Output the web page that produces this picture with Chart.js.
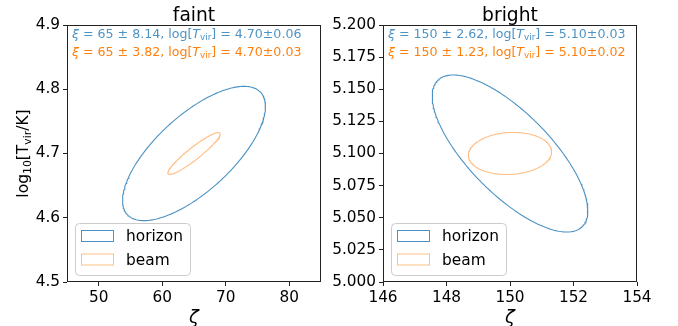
<!DOCTYPE html>
<html>
<head>
<meta charset="utf-8">
<script src="https://cdn.jsdelivr.net/npm/chart.js@4/dist/chart.umd.min.js"></script>
<style>
  html, body { margin: 0; padding: 0; background: #fff; }
  #wrap { position: relative; width: 678px; height: 326px; }
  #wrap canvas { position: absolute; left: 0; top: 0; }
</style>
</head>
<body>
<div id="wrap">
  <canvas id="c0" width="678" height="326"></canvas>
  <canvas id="c1" width="678" height="326"></canvas>
</div>
<script>
// ---------------- data ----------------
const categories = ['faint', 'bright'];
const seriesNames = ['horizon', 'beam'];
// ellipse centres
const centerX = [65, 150];
const centerY = [4.70, 5.10];
// half-extents of each ellipse along x and y, and the correlation
const horizonHalfX = [11.25, 2.45];
const horizonHalfY = [0.1045, 0.0611];
const horizonRho = [0.70, -0.73];
const beamHalfX = [4.12, 1.31];
const beamHalfY = [0.0327, 0.0164];
const beamRho = [0.93, 0.08];
// quoted values in the annotations
const xiValue = [65, 150];
const xiErrHorizon = [8.14, 2.62];
const xiErrBeam = [3.82, 1.23];
const tValue = ['4.70', '5.10'];
const tErrHorizon = ['0.06', '0.03'];
const tErrBeam = ['0.03', '0.02'];
// axes
const xRanges = [[45, 85], [146, 154]];
const yRanges = [[4.5, 4.9], [5.0, 5.2]];
const xTicks = [[50, 60, 70, 80], [146, 148, 150, 152, 154]];
const yTicks = [[4.5, 4.6, 4.7, 4.8, 4.9], [5.0, 5.025, 5.05, 5.075, 5.1, 5.125, 5.15, 5.175, 5.2]];
const yDecimals = [1, 3];

const COLORS = ['rgba(31,119,180,0.8)', 'rgba(255,127,14,0.5)'];
const FONT = '"DejaVu Sans", Verdana, sans-serif';

function ellipsePoints(cx, cy, ax, ay, rho) {
  const d = Math.acos(rho), pts = [], n = 240;
  for (let k = 0; k <= n; k++) {
    const t = 2 * Math.PI * k / n;
    pts.push({ x: cx + ax * Math.cos(t), y: cy + ay * Math.cos(t + d) });
  }
  return pts;
}

function segFont(seg, size) {
  const s = seg.sub ? size * 0.7 : size;
  return (seg.it ? 'italic ' : '') + s + 'px ' + FONT;
}
function richWidth(ctx, segs, size) {
  let w = 0;
  for (const s of segs) { ctx.font = segFont(s, size); w += ctx.measureText(s.t).width; }
  return w;
}
function drawRich(ctx, segs, x, y, size, color) {
  ctx.fillStyle = color;
  ctx.textBaseline = 'alphabetic';
  ctx.textAlign = 'left';
  for (const s of segs) {
    ctx.font = segFont(s, size);
    ctx.fillText(s.t, x, y + (s.sub ? size * 0.22 : 0));
    x += ctx.measureText(s.t).width;
  }
}
function annotSegs(xi, xiErr, t, tErr) {
  return [
    { t: 'ξ', it: true }, { t: ' = ' + xi + ' ± ' + xiErr.toFixed(2) + ', log[' },
    { t: 'T', it: true }, { t: 'vir', sub: true }, { t: '] = ' + t + '±' + tErr }
  ];
}

const decor = {
  id: 'decor',
  afterDatasetsDraw(chart, args, opts) {
    const i = opts.idx, ctx = chart.ctx, a = chart.chartArea;
    ctx.save();
    // annotations
    drawRich(ctx, annotSegs(xiValue[i], xiErrHorizon[i], tValue[i], tErrHorizon[i]), a.left + 5, a.top + 12.5, 12.6, COLORS[0]);
    drawRich(ctx, annotSegs(xiValue[i], xiErrBeam[i], tValue[i], tErrBeam[i]), a.left + 5, a.top + 30.5, 12.6, '#ff7f0e');
    // legend
    const lx = a.left + 8, ly = a.bottom - 59, lw = 115, lh = 52, r = 4;
    ctx.beginPath();
    ctx.roundRect(lx + 0.5, ly + 0.5, lw, lh, r);
    ctx.fillStyle = 'rgba(255,255,255,0.8)';
    ctx.fill();
    ctx.strokeStyle = '#cccccc';
    ctx.lineWidth = 1;
    ctx.stroke();
    const rowY = [13, 36.5];
    seriesNames.forEach((name, k) => {
      ctx.strokeStyle = COLORS[k];
      ctx.lineWidth = 1;
      ctx.strokeRect(lx + 6.5, ly + rowY[k] - 5.5, 32, 11);
      ctx.fillStyle = '#000';
      ctx.font = '15.4px ' + FONT;
      ctx.textBaseline = 'middle';
      ctx.textAlign = 'left';
      ctx.fillText(name, lx + 51, ly + rowY[k] + 1);
    });
    ctx.restore();
  },
  afterDraw(chart, args, opts) {
    const i = opts.idx, ctx = chart.ctx, a = chart.chartArea;
    ctx.save();
    // frame
    ctx.strokeStyle = '#222';
    ctx.lineWidth = 1;
    ctx.strokeRect(a.left + 0.5, a.top + 0.5, a.right - a.left - 1, a.bottom - a.top - 1);
    // title
    ctx.fillStyle = '#000';
    ctx.font = '18.7px ' + FONT;
    ctx.textAlign = 'center';
    ctx.textBaseline = 'alphabetic';
    ctx.fillText(categories[i], (a.left + a.right) / 2, 20.5);
    // x label
    ctx.font = 'italic 18px ' + FONT;
    ctx.fillText('ζ', (a.left + a.right) / 2, 323);
    // y label (left panel only)
    if (i === 0) {
      const segs = [{ t: 'log' }, { t: '10', sub: true }, { t: '[T' }, { t: 'vir', sub: true }, { t: '/K]' }];
      const size = 15.5;
      const w = richWidth(ctx, segs, size);
      ctx.translate(27.5, (a.top + a.bottom) / 2);
      ctx.rotate(-Math.PI / 2);
      drawRich(ctx, segs, -w / 2, 0, size, '#000');
    }
    ctx.restore();
  }
};

function makeChart(i) {
  const padLeft = i === 0 ? 0 : 316;
  const padRight = i === 0 ? 357 : 41;
  return new Chart(document.getElementById('c' + i), {
    type: 'scatter',
    data: {
      datasets: [
        { label: seriesNames[0], data: ellipsePoints(centerX[i], centerY[i], horizonHalfX[i], horizonHalfY[i], horizonRho[i]),
          borderColor: COLORS[0], borderWidth: 1.1, showLine: true, pointRadius: 0, fill: false, tension: 0 },
        { label: seriesNames[1], data: ellipsePoints(centerX[i], centerY[i], beamHalfX[i], beamHalfY[i], beamRho[i]),
          borderColor: COLORS[1], borderWidth: 1.1, showLine: true, pointRadius: 0, fill: false, tension: 0 }
      ]
    },
    options: {
      responsive: false,
      animation: false,
      events: [],
      layout: { padding: { left: padLeft, right: padRight, top: 25, bottom: 0 } },
      plugins: { legend: { display: false }, tooltip: { enabled: false }, title: { display: false }, decor: { idx: i } },
      scales: {
        x: {
          type: 'linear', min: xRanges[i][0], max: xRanges[i][1],
          afterBuildTicks: s => { s.ticks = xTicks[i].map(v => ({ value: v })); },
          afterFit: s => { s.height = 44; },
          border: { display: false },
          grid: { drawOnChartArea: false, drawTicks: true, tickLength: 4, tickColor: '#222', tickWidth: 1 },
          ticks: { color: '#000', padding: 3, font: { family: FONT, size: 15.3 }, maxRotation: 0, autoSkip: false,
                   callback: v => String(v) }
        },
        y: {
          type: 'linear', min: yRanges[i][0], max: yRanges[i][1],
          afterBuildTicks: s => { s.ticks = yTicks[i].map(v => ({ value: v })); },
          afterFit: s => { s.width = 67; },
          border: { display: false },
          grid: { drawOnChartArea: false, drawTicks: true, tickLength: 4, tickColor: '#222', tickWidth: 1 },
          ticks: { color: '#000', padding: 3, font: { family: FONT, size: 15.3 }, autoSkip: false,
                   callback: v => Number(v).toFixed(yDecimals[i]) }
        }
      }
    },
    plugins: [decor]
  });
}
makeChart(0);
makeChart(1);
</script>
</body>
</html>
